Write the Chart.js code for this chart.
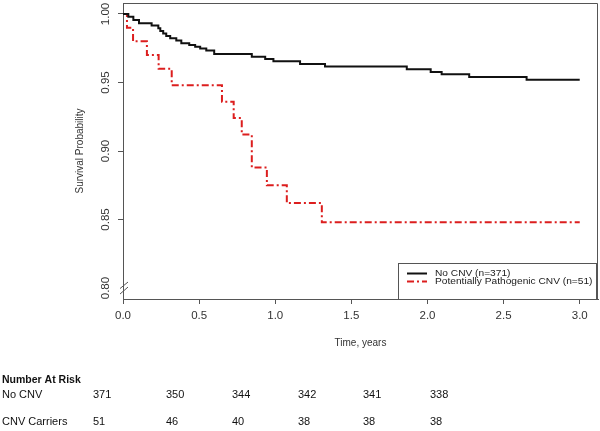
<!DOCTYPE html>
<html><head><meta charset="utf-8">
<script src="https://cdn.jsdelivr.net/npm/chart.js@4/dist/chart.umd.min.js"></script>
<style>html,body{margin:0;padding:0;background:#fff;} #wrap{position:relative;width:600px;height:431px;}</style>
</head><body><div id="wrap"><canvas id="c" width="600" height="431"></canvas></div>
<script>
const seriesLabels = ['No CNV (n=371)', 'Potentially Pathogenic CNV (n=51)'];
const noCnvTimes = [0, 0.035, 0.068, 0.105, 0.188, 0.232, 0.245, 0.264, 0.284, 0.31, 0.35, 0.383, 0.435, 0.474, 0.507, 0.547, 0.599, 0.846, 0.934, 0.988, 1.163, 1.327, 1.864, 2.021, 2.093, 2.274, 2.651, 3.0];
const noCnvSurv  = [1.0, 0.998, 0.9956, 0.9932, 0.9915, 0.9896, 0.9876, 0.9858, 0.984, 0.9823, 0.9807, 0.9786, 0.9774, 0.9761, 0.9748, 0.9734, 0.9708, 0.9688, 0.9672, 0.9655, 0.9635, 0.9617, 0.9596, 0.9577, 0.956, 0.954, 0.952, 0.952];
const cnvTimes = [0, 0.026, 0.066, 0.157, 0.234, 0.32, 0.65, 0.727, 0.78, 0.846, 0.945, 1.076, 1.306, 3.0];
const cnvSurv  = [1.0, 0.99, 0.98, 0.97, 0.96, 0.948, 0.936, 0.924, 0.912, 0.888, 0.875, 0.862, 0.848, 0.848];
const xTicks = [0, 0.5, 1, 1.5, 2, 2.5, 3];
const yTicks = [0.80, 0.85, 0.90, 0.95, 1.00];
const xTitle = 'Time, years';
const yTitle = 'Survival Probability';
const riskTitle = 'Number At Risk';
const riskGroups = ['No CNV', 'CNV Carriers'];
const riskNoCnv = [371, 350, 344, 342, 341, 338];
const riskCnv = [51, 46, 40, 38, 38, 38];

const AXIS = '#555';
const FONT = "'Liberation Sans', Arial, sans-serif";
const RED = '#dc1e1e';

function pts(ts, vs){ return ts.map((t,i)=>({x:t, y:vs[i]})); }

const decor = {
  id: 'decor',
  afterDatasetsDraw(chart){
    const c = chart.ctx, a = chart.chartArea;
    const ys = chart.scales.y;
    c.save();
    // box top & right
    c.strokeStyle = AXIS; c.lineWidth = 1;
    c.beginPath();
    c.moveTo(a.left, a.top + 0.5); c.lineTo(a.right - 0.5, a.top + 0.5); c.lineTo(a.right - 0.5, a.bottom);
    c.stroke();
    // axis break
    c.beginPath();
    const yb = ys.getPixelForValue(0.80);
    c.moveTo(a.left - 3, yb + 0.5); c.lineTo(a.left + 5, yb - 6);
    c.moveTo(a.left - 3, yb + 6); c.lineTo(a.left + 5, yb - 1);
    c.stroke();
    // y tick labels rotated
    c.fillStyle = '#333';
    c.font = '11.5px ' + FONT;
    c.textAlign = 'center'; c.textBaseline = 'middle';
    yTicks.forEach(v => {
      c.save();
      c.translate(a.left - 17, ys.getPixelForValue(v));
      c.rotate(-Math.PI/2);
      c.fillText(v.toFixed(2), 0, 0);
      c.restore();
    });
    // y title
    c.font = '10px ' + FONT;
    c.save();
    c.translate(a.left - 43, (a.top + a.bottom)/2);
    c.rotate(-Math.PI/2);
    c.fillText(yTitle, 0, 0);
    c.restore();
    // x title
    c.fillText(xTitle, (a.left + a.right)/2, a.bottom + 44);
    // legend
    const lx = a.right - 200, ly = a.bottom - 36, lw = 198, lh = 36;
    c.fillStyle = '#fff';
    c.fillRect(lx, ly, lw, lh);
    c.strokeStyle = AXIS;
    c.strokeRect(lx + 0.5, ly + 0.5, lw, lh);
    const ds = chart.data.datasets;
    const rows = [ly + 10.5, ly + 18.5];
    ds.forEach((d, i) => {
      c.strokeStyle = d.borderColor; c.lineWidth = 2;
      c.setLineDash(d.borderDash || []);
      c.beginPath(); c.moveTo(lx + 9, rows[i]); c.lineTo(lx + 29, rows[i]); c.stroke();
      c.setLineDash([]);
      c.fillStyle = '#222'; c.font = '9px ' + FONT;
      c.textAlign = 'left'; c.textBaseline = 'middle';
      c.save();
      c.translate(lx + 37, rows[i]);
      c.scale(1.13, 1);
      c.fillText(d.label, 0, 0);
      c.restore();
    });
    // number at risk table
    const cols = [93, 166, 232, 298, 363, 430];
    c.fillStyle = '#111';
    c.textAlign = 'left'; c.textBaseline = 'middle';
    c.font = 'bold 10.5px ' + FONT;
    c.fillText(riskTitle, 2, 380);
    c.font = '11px ' + FONT;
    c.fillText(riskGroups[0], 2, 395);
    c.fillText(riskGroups[1], 2, 422);
    riskNoCnv.forEach((n, i) => c.fillText(String(n), cols[i], 395));
    riskCnv.forEach((n, i) => c.fillText(String(n), cols[i], 422));
    c.restore();
  }
};

new Chart(document.getElementById('c'), {
  type: 'line',
  data: { datasets: [
    { label: seriesLabels[0], data: pts(noCnvTimes, noCnvSurv), borderColor: '#111', borderWidth: 2, stepped: 'before', pointRadius: 0, fill: false },
    { label: seriesLabels[1], data: pts(cnvTimes, cnvSurv), borderColor: RED, borderWidth: 2, borderDash: [7,3,2,3], stepped: 'before', pointRadius: 0, fill: false }
  ]},
  options: {
    responsive: false, animation: false, devicePixelRatio: 1,
    layout: { padding: { left: 0, right: 2, top: 3, bottom: 102 } },
    plugins: { legend: { display: false }, tooltip: { enabled: false } },
    scales: {
      x: {
        type: 'linear', min: 0, max: 3.12,
        afterBuildTicks: s => { s.ticks = xTicks.map(v => ({ value: v })); },
        afterFit: s => { s.height = 30; },
        grid: { display: true, drawOnChartArea: false, tickLength: 5, color: AXIS, lineWidth: 1 },
        border: { display: true, color: AXIS, width: 1 },
        ticks: { color: '#333', font: { family: FONT, size: 11.5 }, padding: 5, maxRotation: 0, callback: v => Number(v).toFixed(1) }
      },
      y: {
        type: 'linear', min: 0.792, max: 1.008,
        afterBuildTicks: s => { s.ticks = yTicks.map(v => ({ value: v })); },
        afterFit: s => { s.width = 123; },
        grid: { display: true, drawOnChartArea: false, tickLength: 5, lineWidth: 1,
          color: ctx => (ctx.tick && ctx.tick.value < 0.801) ? 'rgba(0,0,0,0)' : AXIS },
        border: { display: true, color: AXIS, width: 1 },
        ticks: { display: false }
      }
    }
  },
  plugins: [decor]
});
</script>
</body></html>
